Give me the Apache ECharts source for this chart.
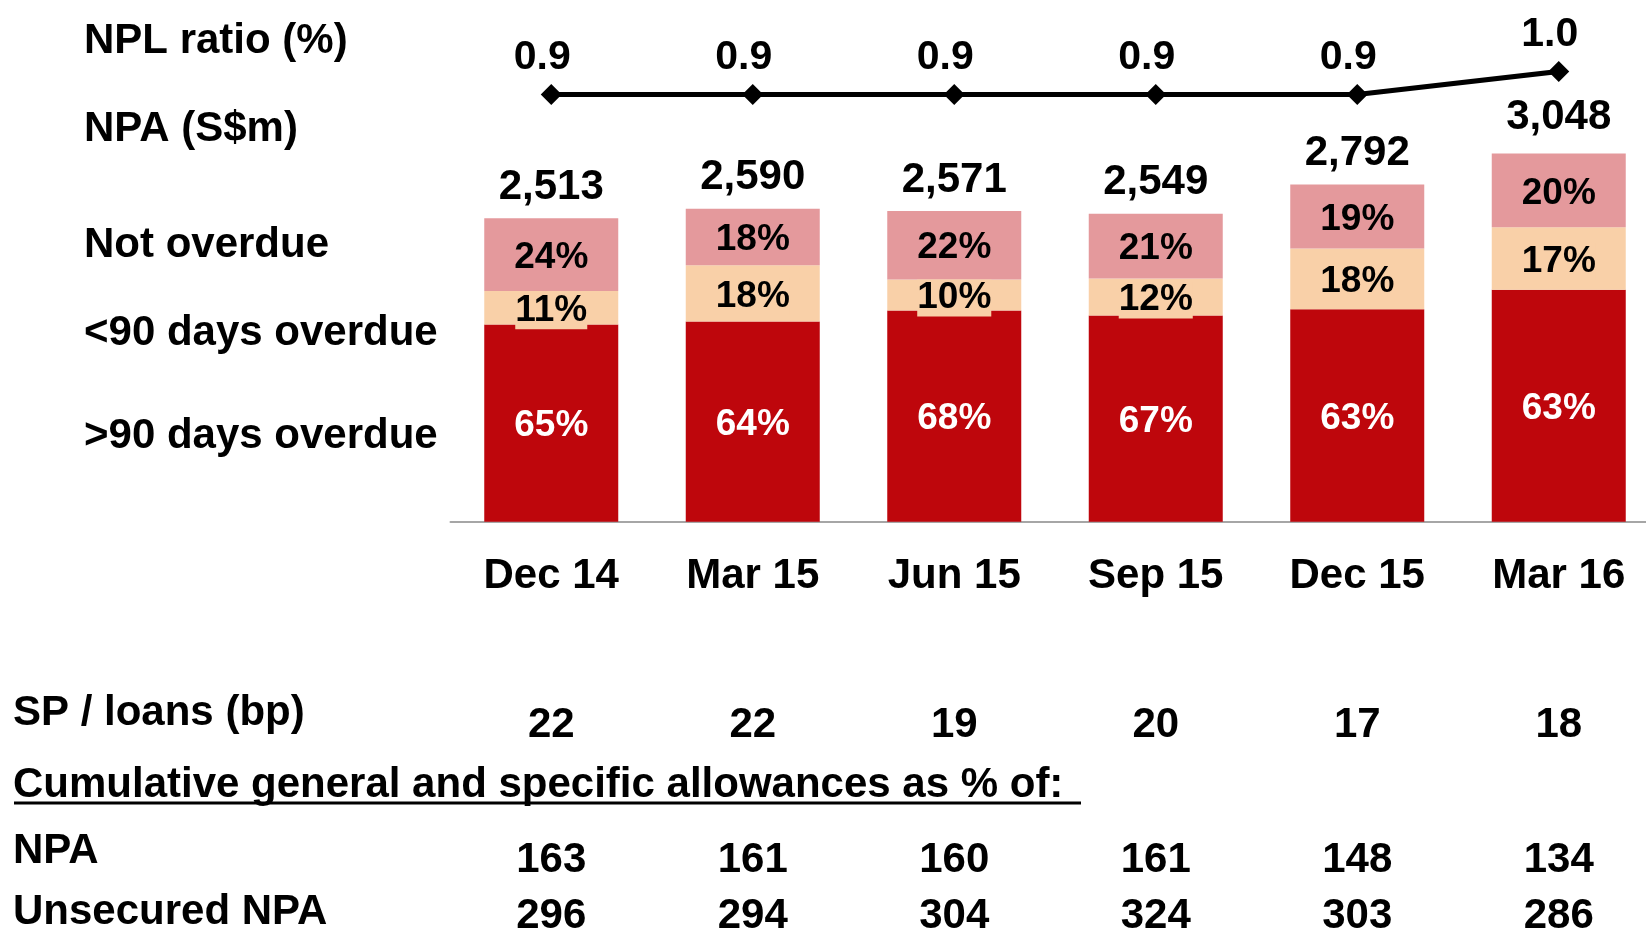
<!DOCTYPE html>
<html>
<head>
<meta charset="utf-8">
<script src="https://cdn.jsdelivr.net/npm/echarts@6/dist/echarts.min.js"></script>
<style>
  html, body { margin: 0; padding: 0; background: #fff; }
  #main { width: 1646px; height: 930px; }
</style>
</head>
<body>
<div id="main"></div>
<script>
// NPA by quarter
var quarters = ['Dec 14', 'Mar 15', 'Jun 15', 'Sep 15', 'Dec 15', 'Mar 16'];
var nplRatio = [0.9, 0.9, 0.9, 0.9, 0.9, 1.0];
var npaTotal = [2513, 2590, 2571, 2549, 2792, 3048];
var pctOver90 = [65, 64, 68, 67, 63, 63];
var pctUnder90 = [11, 18, 10, 12, 18, 17];
var pctNotOverdue = [24, 18, 22, 21, 19, 20];
// table rows under the chart
var spLoans = [22, 22, 19, 20, 17, 18];
var allowNpa = [163, 161, 160, 161, 148, 134];
var allowUnsecured = [296, 294, 304, 324, 303, 286];

var FONT = "'Liberation Sans', Arial, sans-serif";
var RED = '#BE060C', PEACH = '#F9D0A8', PINK = '#E4999C';

function segment(pcts) {
  return pcts.map(function (p, i) { return npaTotal[i] * p / 100; });
}

function pctLabel(pcts, color, bg) {
  return {
    show: true,
    position: 'inside',
    offset: [0, 3],
    fontFamily: FONT,
    fontWeight: 'bold',
    fontSize: 37,
    color: color,
    backgroundColor: bg || 'transparent',
    formatter: function (p) { return pcts[p.dataIndex] + '%'; }
  };
}

var chartDom = document.getElementById('main');
var npaChart = echarts.init(chartDom);
var option;

var totalData = npaTotal.map(function (v, i) {
  // last total sits a bit higher, clear of the ratio line
  return i === npaTotal.length - 1 ? { value: v, label: { distance: 15 } } : v;
});

option = {
  animation: false,
  grid: [
    { left: 450.5, width: 1209, top: 38.5, height: 483.2, outerBoundsMode: 'none' },
    { left: 450.5, width: 1209, top: 71.4, height: 23.1, outerBoundsMode: 'none' }
  ],
  xAxis: [
    {
      type: 'category',
      gridIndex: 0,
      data: quarters,
      axisLine: { lineStyle: { color: '#A6A6A6', width: 2 } },
      axisTick: { show: false },
      axisLabel: {
        interval: 0,
        margin: 34,
        color: '#000',
        fontFamily: FONT,
        fontWeight: 'bold',
        fontSize: 42
      }
    },
    { type: 'category', gridIndex: 1, data: quarters, show: false }
  ],
  yAxis: [
    { type: 'value', gridIndex: 0, min: 0, max: 4000, show: false },
    { type: 'value', gridIndex: 1, min: 0.9, max: 1.0, show: false }
  ],
  series: [
    {
      name: '>90 days overdue',
      type: 'bar',
      stack: 'npa',
      barWidth: 134,
      barGap: '-100%',
      itemStyle: { color: RED },
      label: pctLabel(pctOver90, '#fff'),
      data: segment(pctOver90)
    },
    {
      name: '<90 days overdue',
      type: 'bar',
      stack: 'npa',
      barWidth: 134,
      barGap: '-100%',
      itemStyle: { color: PEACH },
      label: pctLabel(pctUnder90, '#000', PEACH),
      data: segment(pctUnder90)
    },
    {
      name: 'Not overdue',
      type: 'bar',
      stack: 'npa',
      barWidth: 134,
      barGap: '-100%',
      itemStyle: { color: PINK },
      label: pctLabel(pctNotOverdue, '#000'),
      data: segment(pctNotOverdue)
    },
    {
      name: 'NPA total',
      type: 'bar',
      barWidth: 134,
      barGap: '-100%',
      z: 1,
      itemStyle: { color: 'transparent' },
      label: {
        show: true,
        position: 'top',
        distance: 10,
        fontFamily: FONT,
        fontWeight: 'bold',
        fontSize: 42,
        color: '#000',
        formatter: function (p) { return p.value.toLocaleString('en-US'); }
      },
      data: totalData
    },
    {
      name: 'NPL ratio',
      type: 'line',
      xAxisIndex: 1,
      yAxisIndex: 1,
      symbol: 'diamond',
      symbolSize: 21,
      lineStyle: { color: '#000', width: 5 },
      itemStyle: { color: '#000' },
      label: {
        show: true,
        position: 'top',
        distance: 6,
        offset: [-9, 0],
        fontFamily: FONT,
        fontWeight: 'bold',
        fontSize: 41,
        color: '#000',
        formatter: function (p) { return p.value.toFixed(1); }
      },
      data: nplRatio
    }
  ]
};

option && npaChart.setOption(option);

// side labels and the table below, placed on the category positions
function txt(str, x, y, align) {
  return {
    type: 'text',
    x: x,
    y: y,
    style: {
      text: str,
      fill: '#000',
      font: 'bold 42px ' + FONT,
      textAlign: align || 'left',
      textVerticalAlign: 'middle'
    }
  };
}

var els = [
  txt('NPL ratio (%)', 84, 41),
  txt('NPA (S$m)', 84, 129),
  txt('Not overdue', 84, 245),
  txt('<90 days overdue', 84, 333),
  txt('>90 days overdue', 84, 436),
  txt('SP / loans (bp)', 13, 713),
  txt('Cumulative general and specific allowances as % of:', 13, 785),
  txt('NPA', 13, 851),
  txt('Unsecured NPA', 13, 912),
  {
    type: 'line',
    shape: { x1: 14, y1: 803, x2: 1081, y2: 803 },
    style: { stroke: '#000', lineWidth: 3 }
  }
];

quarters.forEach(function (q, i) {
  var x = npaChart.convertToPixel({ xAxisIndex: 0 }, i);
  els.push(txt(String(spLoans[i]), x, 725, 'center'));
  els.push(txt(String(allowNpa[i]), x, 860, 'center'));
  els.push(txt(String(allowUnsecured[i]), x, 916, 'center'));
});

npaChart.setOption({ graphic: els });
window.addEventListener('resize', function () { npaChart.resize(); });
</script>
</body>
</html>
